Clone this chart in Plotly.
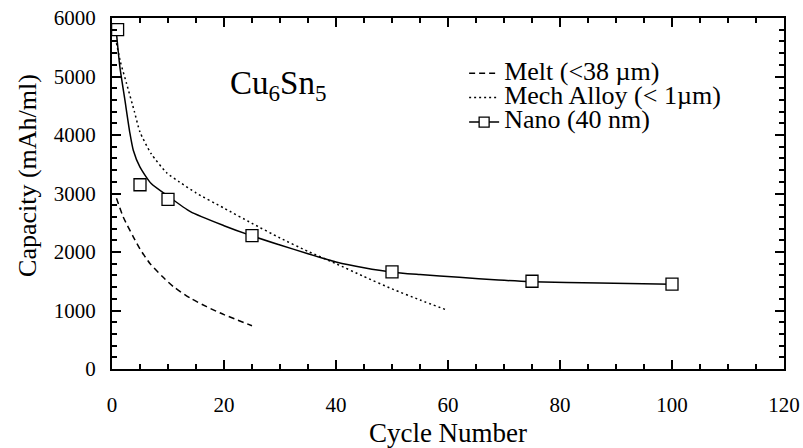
import plotly.graph_objects as go

# Nano (40 nm) measured points
nano_x = [1, 5, 10, 25, 50, 75, 100]
nano_y = [5800, 3150, 2900, 2280, 1660, 1500, 1450]

# Nano fit curve
nano_fit_x = [0.8, 1.4, 2.3, 3.2, 3.8, 5, 7, 9.8, 14, 20, 25, 30, 35, 40, 45, 50, 55, 62, 69, 75, 87, 100]
nano_fit_y = [5740, 5170, 4600, 4030, 3740, 3450, 3170, 2970, 2690, 2450, 2275, 2120, 1970, 1830, 1730, 1655, 1615, 1567, 1521, 1492, 1468, 1447]

# Mech Alloy (< 1 um) curve
mech_x = [0.8, 1.5, 2.6, 4, 5, 7, 9.8, 12, 15, 20, 25, 30, 35, 40, 45, 50, 55, 60]
mech_y = [5570, 5250, 4880, 4400, 4050, 3680, 3350, 3200, 3010, 2750, 2490, 2240, 2010, 1800, 1580, 1370, 1180, 1000]

# Melt (<38 um) curve
melt_x = [0.8, 2, 3.8, 5, 6.8, 9, 11, 14, 16.9, 20, 25]
melt_y = [2920, 2600, 2260, 2050, 1800, 1580, 1405, 1210, 1065, 930, 740]

# Axis ticks
x_range = [0, 120]
y_range = [0, 6000]
x_major = [0, 20, 40, 60, 80, 100, 120]
y_major = [0, 1000, 2000, 3000, 4000, 5000, 6000]

FONT = "Liberation Serif"
SPAN = "<span style='font-size:26px'>%s</span>"

fig = go.Figure()
fig.add_trace(go.Scatter(x=melt_x, y=melt_y, mode="lines",
                         name=SPAN % "Melt (<38 \u00b5m)",
                         line=dict(color="black", width=1.5, dash="6px,4px", shape="spline", smoothing=0.6)))
fig.add_trace(go.Scatter(x=mech_x, y=mech_y, mode="lines",
                         name=SPAN % "Mech Alloy (< 1\u00b5m)",
                         line=dict(color="black", width=1.5, dash="2px,3px", shape="spline", smoothing=0.6)))
fig.add_trace(go.Scatter(x=nano_fit_x, y=nano_fit_y, mode="lines", showlegend=False,
                         line=dict(color="black", width=1.5, shape="spline", smoothing=0.6)))
fig.add_trace(go.Scatter(x=nano_x, y=nano_y, mode="markers", showlegend=False,
                         marker=dict(symbol="square", size=12, color="white",
                                     line=dict(color="black", width=1.3))))
fig.add_trace(go.Scatter(x=[None], y=[None], mode="lines+markers",
                         name=SPAN % "Nano (40 nm)",
                         line=dict(color="black", width=1.5),
                         marker=dict(symbol="square", size=10, color="white",
                                     line=dict(color="black", width=1.3))))

fig.add_annotation(x=29.7, y=4850, xref="x", yref="y",
                   text="Cu<sub>6</sub>Sn<sub>5</sub>", showarrow=False,
                   font=dict(family=FONT, size=33, color="black"))

fig.add_annotation(x=-0.125, y=0.55, xref="paper", yref="paper",
                   text="Capacity (mAh/ml)", showarrow=False, textangle=-90,
                   xanchor="center", yanchor="middle",
                   font=dict(family=FONT, size=26, color="black"))

fig.update_xaxes(range=x_range, tickmode="array", tickvals=x_major, automargin=False,
                 showgrid=False, zeroline=False, showline=True, linecolor="black", linewidth=2,
                 mirror="allticks", ticks="inside", tickcolor="black", tickwidth=2, ticklen=9,
                 minor=dict(ticks="inside", tick0=0, dtick=5, ticklen=5, tickwidth=1.5,
                            tickcolor="black", showgrid=False),
                 ticklabelstandoff=16,
                 tickfont=dict(family=FONT, size=21, color="black"),
                 title=dict(text="Cycle Number", font=dict(family=FONT, size=27, color="black"), standoff=10))
fig.update_yaxes(range=y_range, tickmode="array", tickvals=y_major, automargin=False,
                 showgrid=False, zeroline=False, showline=True, linecolor="black", linewidth=2,
                 mirror="allticks", ticks="inside", tickcolor="black", tickwidth=2, ticklen=9,
                 minor=dict(ticks="inside", tick0=0, dtick=200, ticklen=5, tickwidth=1.5,
                            tickcolor="black", showgrid=False),
                 ticklabelstandoff=10,
                 tickfont=dict(family=FONT, size=21, color="black"))

fig.update_layout(
    template="simple_white",
    font=dict(family=FONT, color="black"),
    width=803, height=448,
    margin=dict(l=112, r=19, t=18, b=79),
    paper_bgcolor="white", plot_bgcolor="white",
    showlegend=True,
    legend=dict(x=0.524, y=0.892, xanchor="left", yanchor="top", bgcolor="rgba(0,0,0,0)",
                font=dict(family=FONT, size=16.5, color="black"), tracegroupgap=0, itemwidth=30),
)

fig.write_html("out.html")
